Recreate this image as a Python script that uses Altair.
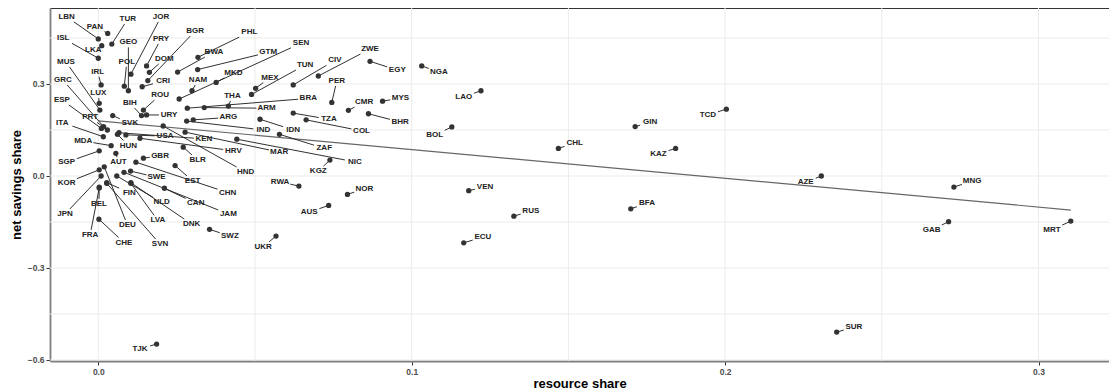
import math
import altair as alt
import pandas as pd

countries = ["LBN","PAN","TUR","JOR","ISL","LKA","GEO","POL","PRY","DOM","BGR","CRI","PHL","BWA","GTM","SEN","MKD","NAM","MEX","TUN","CIV","ZWE","EGY","NGA","PER","CMR","MYS","BHR","LAO","BOL","THA","ARM","BRA","ARG","IND","IDN","TZA","COL","ZAF","NIC","KGZ","MAR","HRV","BLR","HND","KEN","USA","HUN","SVK","BIH","ROU","URY","MUS","IRL","LUX","GRC","ESP","PRT","ITA","MDA","SGP","AUT","GBR","EST","CHN","SWE","JAM","DNK","CAN","NLD","LVA","FIN","SVN","DEU","KOR","JPN","BEL","FRA","CHE","SWZ","UKR","RWA","NOR","AUS","TJK","VEN","RUS","ECU","CHL","GIN","TCD","KAZ","AZE","MNG","BFA","GAB","MRT","SUR"]
resource_share = [0.000,0.0030,0.0043,0.0104,0.000,0.0011,0.0096,0.0083,0.0154,0.0163,0.0158,0.0140,0.0318,0.0253,0.0317,0.0258,0.0376,0.0299,0.0502,0.0489,0.0622,0.0702,0.0867,0.1032,0.0745,0.0798,0.0907,0.0862,0.1221,0.1128,0.0415,0.0338,0.0284,0.0303,0.0282,0.0516,0.0622,0.0663,0.0578,0.0442,0.0739,0.0277,0.0133,0.0271,0.0207,0.0066,0.0088,0.0061,0.0046,0.0138,0.0144,0.0154,0.0005,0.0009,0.0003,0.0017,0.0010,0.0029,0.0016,0.0041,0.0003,0.0056,0.0144,0.0245,0.0120,0.0103,0.0082,0.0104,0.0211,0.0059,0.0104,0.0027,0.0027,0.0019,0.0003,0.0009,0.0003,0.0003,0.0002,0.0355,0.0567,0.0640,0.0795,0.0735,0.0186,0.1182,0.1326,0.1166,0.1468,0.1713,0.2004,0.1842,0.2307,0.2730,0.1699,0.2713,0.3103,0.2356]
net_savings_share = [0.447,0.465,0.430,0.332,0.384,0.425,0.278,0.293,0.359,0.338,0.311,0.291,0.387,0.339,0.347,0.251,0.305,0.278,0.286,0.266,0.297,0.326,0.374,0.359,0.240,0.214,0.244,0.203,0.278,0.160,0.228,0.223,0.221,0.183,0.179,0.185,0.205,0.183,0.136,0.120,0.052,0.143,0.123,0.094,0.163,0.141,0.134,0.136,0.197,0.197,0.215,0.199,0.215,0.297,0.237,0.161,0.155,0.150,0.128,0.099,0.082,0.074,0.058,0.034,0.045,0.016,0.012,-0.022,-0.040,0.000,-0.024,-0.022,-0.024,0.030,0.020,0.000,-0.036,-0.039,-0.141,-0.174,-0.196,-0.033,-0.060,-0.096,-0.548,-0.048,-0.131,-0.218,0.090,0.161,0.218,0.090,0.000,-0.036,-0.107,-0.149,-0.147,-0.509]
label_x = [-0.0101,-0.0011,0.0094,0.0200,-0.0112,-0.0016,0.0096,0.0091,0.0200,0.0211,0.0309,0.0207,0.0482,0.0369,0.0542,0.0647,0.0431,0.0318,0.0548,0.0660,0.0755,0.0867,0.0954,0.1087,0.0761,0.0848,0.0964,0.0963,0.1166,0.1073,0.0428,0.0537,0.0670,0.0415,0.0527,0.0622,0.0736,0.0840,0.0721,0.0819,0.0702,0.0577,0.0431,0.0317,0.0470,0.0337,0.0213,0.0096,0.0101,0.0101,0.0197,0.0226,-0.0103,-0.0002,0.0000,-0.0113,-0.0116,-0.0026,-0.0115,-0.0048,-0.0101,0.0064,0.0197,0.0301,0.0413,0.0186,0.0415,0.0298,0.0311,0.0202,0.0190,0.0099,0.0197,0.0093,-0.0101,-0.0106,0.0002,-0.0026,0.0082,0.0420,0.0526,0.0580,0.0849,0.0673,0.0133,0.1234,0.1380,0.1227,0.1520,0.1761,0.1945,0.1787,0.2257,0.2788,0.1751,0.2659,0.3043,0.2411]
label_y = [0.519,0.487,0.512,0.519,0.449,0.411,0.436,0.372,0.447,0.382,0.473,0.310,0.469,0.404,0.403,0.433,0.336,0.313,0.321,0.362,0.377,0.414,0.345,0.339,0.310,0.241,0.254,0.176,0.258,0.133,0.261,0.221,0.253,0.191,0.150,0.150,0.185,0.147,0.090,0.046,0.016,0.078,0.082,0.052,0.013,0.121,0.130,0.099,0.172,0.238,0.264,0.199,0.372,0.340,0.270,0.313,0.248,0.191,0.174,0.114,0.045,0.045,0.066,-0.016,-0.054,-0.004,-0.124,-0.157,-0.089,-0.086,-0.145,-0.054,-0.222,-0.160,-0.022,-0.124,-0.091,-0.192,-0.217,-0.196,-0.231,-0.019,-0.042,-0.118,-0.564,-0.035,-0.114,-0.199,0.107,0.175,0.199,0.072,-0.020,-0.017,-0.089,-0.176,-0.176,-0.493]

trend_x = [0.0, 0.3103]
trend_y = [0.180, -0.111]

x_ticks = [0.0, 0.1, 0.2, 0.3]
x_grid = [0.0, 0.05, 0.1, 0.15, 0.2, 0.25, 0.3]
y_ticks = [-0.6, -0.3, 0.0, 0.3]
y_grid = [-0.6, -0.45, -0.3, -0.15, 0.0, 0.15, 0.3, 0.45]

W, H = 1059, 353
X_DOM = [-0.01541, 0.32249]
Y_DOM = [-0.6033, 0.5478]
FS = 8
FONT = "Liberation Sans"

sx = W / (X_DOM[1] - X_DOM[0])
sy = H / (Y_DOM[1] - Y_DOM[0])

pts = pd.DataFrame({"country": countries, "x": resource_share, "y": net_savings_share,
                    "lx": label_x, "ly": label_y})

segs = []
for name, x, y, lx, ly in zip(countries, resource_share, net_savings_share, label_x, label_y):
    dxp = (lx - x) * sx
    dyp = (ly - y) * sy
    hw = len(name) * 0.36 * FS + 1.5
    hh = 0.5 * FS + 1.0
    cand = []
    if abs(dxp) > 1e-9:
        cand.append(hw / abs(dxp))
    if abs(dyp) > 1e-9:
        cand.append(hh / abs(dyp))
    s = min(cand) if cand else 1.0
    if s >= 1:
        continue
    if math.hypot(dxp, dyp) * (1 - s) < 3:
        continue
    segs.append({"x": x, "y": y, "x2": lx - (lx - x) * s, "y2": ly - (ly - y) * s})
seg_df = pd.DataFrame(segs)

xs = alt.Scale(domain=X_DOM, nice=False, zero=False)
ys = alt.Scale(domain=Y_DOM, nice=False, zero=False)

vgrid = alt.Chart(pd.DataFrame({"v": x_grid})).mark_rule(color="#ebebeb", strokeWidth=1).encode(
    x=alt.X("v:Q", scale=xs,
            axis=alt.Axis(orient="top", labels=False, ticks=False, grid=False, title=None,
                          domainColor="#333333", domainWidth=1))
)
hgrid = alt.Chart(pd.DataFrame({"v": y_grid})).mark_rule(color="#ebebeb", strokeWidth=1).encode(
    y=alt.Y("v:Q", scale=ys, axis=None)
)

trend = alt.Chart(pd.DataFrame({"x": trend_x, "y": trend_y})).mark_line(
    color="#666666", strokeWidth=1.2).encode(
    x=alt.X("x:Q", scale=xs, axis=None),
    y=alt.Y("y:Q", scale=ys, axis=None),
)

seg = alt.Chart(seg_df).mark_rule(color="#1a1a1a", strokeWidth=0.9).encode(
    x=alt.X("x:Q", scale=xs, axis=None),
    y=alt.Y("y:Q", scale=ys, axis=None),
    x2="x2:Q",
    y2="y2:Q",
)

points = alt.Chart(pts).mark_circle(size=28, color="#333333", opacity=1).encode(
    x=alt.X("x:Q", scale=xs,
            axis=alt.Axis(values=x_ticks, format=".1f", grid=False, title="resource share",
                          domainColor="#7f7f7f", domainWidth=1.8, tickColor="#333333",
                          tickSize=4, tickWidth=1, labelFont=FONT, labelFontSize=8.5,
                          labelFontWeight="bold", labelColor="#4d4d4d", labelPadding=2,
                          titleFont=FONT, titleFontSize=13, titleFontWeight="bold",
                          titleColor="#000000", titlePadding=2)),
    y=alt.Y("y:Q", scale=ys,
            axis=alt.Axis(values=y_ticks, format=".1f", grid=False, title="net savings share",
                          domainColor="#7f7f7f", domainWidth=1.8, tickColor="#333333",
                          tickSize=4, tickWidth=1, labelFont=FONT, labelFontSize=8.5,
                          labelFontWeight="bold", labelColor="#4d4d4d", labelPadding=2,
                          titleFont=FONT, titleFontSize=13, titleFontWeight="bold",
                          titleColor="#000000", titlePadding=4)),
)

labels = alt.Chart(pts).mark_text(font=FONT, fontSize=FS, fontWeight="bold", color="#222222",
                                  align="center", baseline="middle").encode(
    x=alt.X("lx:Q", scale=xs, axis=None),
    y=alt.Y("ly:Q", scale=ys, axis=None),
    text="country:N",
)

chart = alt.layer(vgrid, hgrid, trend, seg, points, labels).resolve_axis(
    x="independent", y="independent"
).properties(
    width=W, height=H,
    autosize=alt.AutoSizeParams(type="none"),
    padding={"left": 42, "top": 0, "right": 0, "bottom": 30},
    background="white",
).configure_view(stroke=None)

chart.save("out.html", embed_options={"renderer": "svg", "actions": False})
